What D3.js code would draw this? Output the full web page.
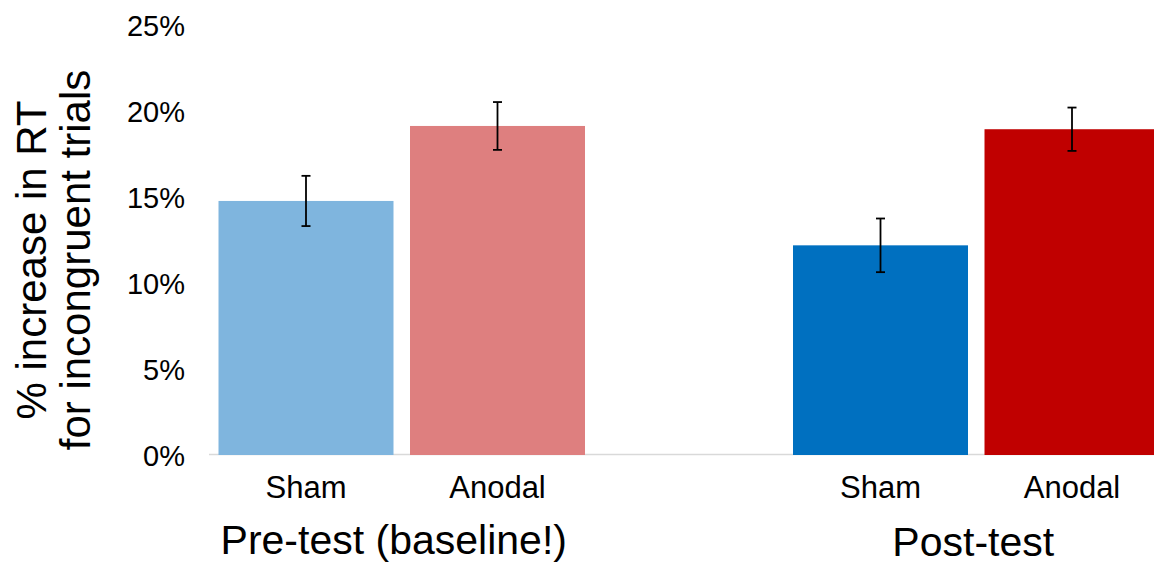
<!DOCTYPE html>
<html>
<head>
<meta charset="utf-8">
<script src="https://cdn.jsdelivr.net/npm/d3@7"></script>
<style>
  html, body { margin: 0; padding: 0; background: #fff; }
  svg { display: block; font-family: "Liberation Sans", Arial, Helvetica, sans-serif; }
</style>
</head>
<body>
<svg id="chart" width="1154" height="565"></svg>
<script>
// ---- data ----
const slots = ["Pre-Sham", "Pre-Anodal", "gap", "Post-Sham", "Post-Anodal"];
const barKeys = ["Pre-Sham", "Pre-Anodal", "Post-Sham", "Post-Anodal"];
const barLabels = ["Sham", "Anodal", "Sham", "Anodal"];
const barValues = [0.1477, 0.1913, 0.1219, 0.1894];
const barErrors = [0.0146, 0.0139, 0.0156, 0.0126];
const barColors = ["#7fb5de", "#de7f7f", "#0070c0", "#c00000"];
const groupNames = ["Pre-test (baseline!)", "Post-test"];
const groupMembers = [["Pre-Sham", "Pre-Anodal"], ["Post-Sham", "Post-Anodal"]];
const yTicks = [0, 0.05, 0.10, 0.15, 0.20, 0.25];
const yLabelLines = ["% increase in RT", "for incongruent trials"];

// ---- layout ----
const svg = d3.select("#chart");
const y = d3.scaleLinear().domain([0, 0.25]).range([455, 25]);
const x = d3.scaleBand().domain(slots).range([210.25, 1167.75])
  .paddingInner(0.0862).paddingOuter(0.0431);

// baseline axis line
svg.append("line")
  .attr("x1", 209).attr("x2", 1154)
  .attr("y1", y(0) - 0.5).attr("y2", y(0) - 0.5)
  .attr("stroke", "#d9d9d9").attr("stroke-width", 1.5);

// y axis tick labels
const yAxis = d3.axisLeft(y).tickValues(yTicks).tickFormat(d3.format(".0%"))
  .tickSize(0).tickPadding(0);
const gy = svg.append("g").attr("transform", "translate(185,0)").call(yAxis);
gy.select(".domain").remove();
gy.selectAll("text")
  .attr("font-size", 29).attr("fill", "#000")
  .attr("font-family", "Liberation Sans, Arial, sans-serif")
  .attr("dy", "0.36em");

// bars
const data = barKeys.map((k, i) => ({ key: k, label: barLabels[i], v: barValues[i], e: barErrors[i], c: barColors[i] }));
svg.append("g").selectAll("rect").data(data).join("rect")
  .attr("x", d => x(d.key))
  .attr("width", x.bandwidth())
  .attr("y", d => y(d.v))
  .attr("height", d => y(0) - y(d.v))
  .attr("fill", d => d.c);

// error bars
const eg = svg.append("g").attr("stroke", "#000").attr("stroke-width", 1.8);
data.forEach(d => {
  const cx = x(d.key) + x.bandwidth() / 2;
  eg.append("line").attr("x1", cx).attr("x2", cx).attr("y1", y(d.v + d.e)).attr("y2", y(d.v - d.e));
  eg.append("line").attr("x1", cx - 4.5).attr("x2", cx + 4.5).attr("y1", y(d.v + d.e)).attr("y2", y(d.v + d.e));
  eg.append("line").attr("x1", cx - 4.5).attr("x2", cx + 4.5).attr("y1", y(d.v - d.e)).attr("y2", y(d.v - d.e));
});

// category labels
svg.append("g").selectAll("text").data(data).join("text")
  .attr("x", d => x(d.key) + x.bandwidth() / 2)
  .attr("y", 498)
  .attr("text-anchor", "middle")
  .attr("font-size", 31)
  .attr("fill", "#000")
  .text(d => d.label);

// group labels
svg.append("g").selectAll("text").data(groupNames).join("text")
  .attr("x", (d, i) => d3.mean(groupMembers[i], k => x(k) + x.bandwidth() / 2) - (i === 0 ? 8 : 3))
  .attr("y", (d, i) => i === 0 ? 554 : 556)
  .attr("text-anchor", "middle")
  .attr("font-size", 41)
  .attr("fill", "#000")
  .text(d => d);

// y axis title
const yt = svg.append("text")
  .attr("transform", "translate(0,260) rotate(-90)")
  .attr("text-anchor", "middle")
  .attr("font-size", 42)
  .attr("fill", "#000");
yt.selectAll("tspan").data(yLabelLines).join("tspan")
  .attr("x", 0)
  .attr("y", (d, i) => 46 + i * 44)
  .text(d => d);
</script>
</body>
</html>
